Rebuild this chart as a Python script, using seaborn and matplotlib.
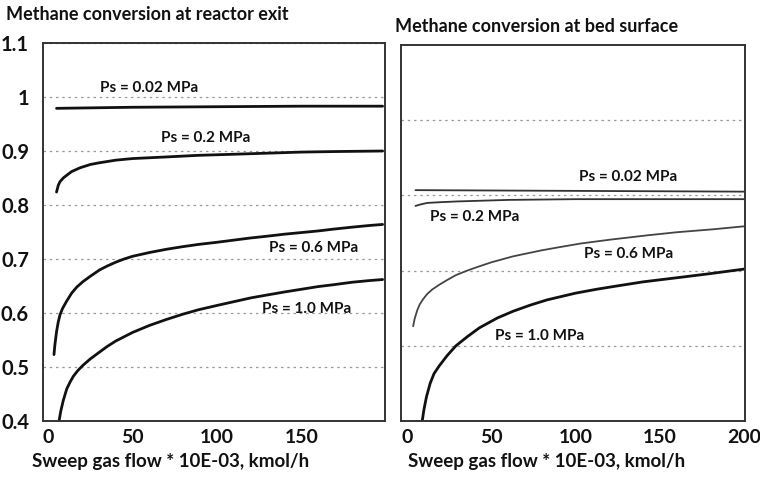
import matplotlib
matplotlib.use("Agg")
import matplotlib.pyplot as plt
from matplotlib.ticker import MultipleLocator, NullFormatter
import seaborn as sns
import pandas as pd

# Methane conversion vs sweep gas flow (x in 10E-03 kmol/h)
# Reactor exit
exit_x_002 = [5, 50, 100, 150, 198]
exit_y_002 = [0.979, 0.981, 0.982, 0.983, 0.983]
exit_x_02 = [5, 6, 7, 9, 11, 14, 19, 25, 30, 40, 50, 70, 89, 110, 130, 150, 170, 198]
exit_y_02 = [0.824, 0.836, 0.843, 0.850, 0.855, 0.862, 0.869, 0.875, 0.878, 0.883, 0.886,
             0.889, 0.892, 0.894, 0.896, 0.898, 0.899, 0.900]
exit_x_06 = [3.5, 4, 5, 6, 7, 8.5, 11, 14, 17, 20.6, 25, 30.6, 35, 40, 45, 50, 60, 70, 80,
             89, 100, 110, 120, 129, 140, 150, 160, 168, 180, 190, 198]
exit_y_06 = [0.523, 0.540, 0.565, 0.583, 0.596, 0.608, 0.622, 0.637, 0.648, 0.658, 0.668,
             0.680, 0.687, 0.694, 0.700, 0.705, 0.712, 0.718, 0.723, 0.727, 0.731, 0.735,
             0.739, 0.742, 0.746, 0.749, 0.752, 0.755, 0.759, 0.762, 0.764]
exit_x_10 = [6.5, 7.5, 9, 11, 13, 15, 17.5, 20.6, 25, 30.6, 35, 40, 45, 50, 60, 70, 80, 89,
             100, 110, 120, 129, 140, 150, 160, 168, 180, 190, 198]
exit_y_10 = [0.400, 0.418, 0.438, 0.459, 0.472, 0.483, 0.493, 0.503, 0.515, 0.528, 0.538,
             0.548, 0.556, 0.564, 0.577, 0.588, 0.598, 0.606, 0.614, 0.621, 0.628, 0.633,
             0.639, 0.644, 0.649, 0.652, 0.657, 0.660, 0.662]

# Bed surface
bed_x_002 = [5, 100, 200.6]
bed_y_002 = [0.807, 0.806, 0.805]
bed_x_02 = [5, 8, 12, 20, 30, 45, 60, 100, 150, 200.6]
bed_y_02 = [0.786, 0.788, 0.790, 0.791, 0.792, 0.793, 0.794, 0.795, 0.795, 0.795]
bed_x_06 = [3.6, 4.5, 6, 7.5, 9.5, 12, 15, 19, 23.8, 29, 35.7, 42, 50, 63, 80, 90, 103, 120,
            143, 160, 182, 200.6]
bed_y_06 = [0.626, 0.636, 0.647, 0.655, 0.662, 0.669, 0.675, 0.681, 0.6875, 0.694, 0.700,
            0.705, 0.711, 0.719, 0.727, 0.731, 0.736, 0.741, 0.747, 0.751, 0.755, 0.759]
bed_x_10 = [9, 10, 11.5, 13.7, 16, 19, 23.8, 29, 35.7, 43, 53.6, 63, 73, 83, 100, 112, 123,
            140, 162, 180, 200]
bed_y_10 = [0.500, 0.515, 0.532, 0.550, 0.563, 0.573, 0.587, 0.600, 0.612, 0.624, 0.637,
            0.646, 0.654, 0.661, 0.670, 0.675, 0.679, 0.685, 0.691, 0.696, 0.702]

pressures = ["Ps = 0.02 MPa", "Ps = 0.2 MPa", "Ps = 0.6 MPa", "Ps = 1.0 MPa"]
exit_x_ticks = [0, 50, 100, 150]
exit_y_ticks = [0.4, 0.5, 0.6, 0.7, 0.8, 0.9, 1.0, 1.1]
exit_y_labels = ["0.4", "0.5", "0.6", "0.7", "0.8", "0.9", "1", "1.1"]
bed_x_ticks = [0, 50, 100, 150, 200]
bed_y_ticks = [0.6, 0.7, 0.8, 0.9]

sns.set_theme(style="white")
plt.rcParams["font.family"] = ["Lato", "DejaVu Sans"]

fig = plt.figure(figsize=(7.6, 4.83), dpi=100)
ax1 = fig.add_axes([43 / 760, 62 / 483, 342 / 760, 378 / 483])
ax2 = fig.add_axes([401 / 760, 62 / 483, 344 / 760, 376 / 483])


def frame(series):
    return pd.DataFrame({"flow": series[0], "conv": series[1]})


exit_series = [(exit_x_002, exit_y_002), (exit_x_02, exit_y_02),
               (exit_x_06, exit_y_06), (exit_x_10, exit_y_10)]
bed_series = [(bed_x_002, bed_y_002), (bed_x_02, bed_y_02),
              (bed_x_06, bed_y_06), (bed_x_10, bed_y_10)]

for s in exit_series:
    sns.lineplot(data=frame(s), x="flow", y="conv", ax=ax1, color="#111111", lw=2.0)

bed_styles = [("#333333", 1.3), ("#333333", 1.3), ("#444444", 1.3), ("#111111", 2.0)]
for s, (c, w) in zip(bed_series, bed_styles):
    sns.lineplot(data=frame(s), x="flow", y="conv", ax=ax2, color=c, lw=w)

label_font = dict(fontsize=11, fontweight="bold", color="#111111", va="center", ha="left")
exit_label_pos = [(30.6, 1.017), (67, 0.925), (130.6, 0.72), (126.5, 0.607)]
bed_label_pos = [(101.8, 0.824), (13.7, 0.771), (104.8, 0.722), (52.4, 0.613)]
for txt, (x, y) in zip(pressures, exit_label_pos):
    ax1.text(x, y, txt, **label_font)
for txt, (x, y) in zip(pressures, bed_label_pos):
    ax2.text(x, y, txt, **label_font)

# Axes limits, ticks and grids
ax1.set_xlim(-3, 199.4)
ax1.set_ylim(0.4, 1.1)
ax1.set_xticks(exit_x_ticks)
ax1.set_yticks(exit_y_ticks)
ax1.set_yticklabels(exit_y_labels)
ax1.xaxis.set_minor_locator(MultipleLocator(25))
ax1.yaxis.set_minor_locator(MultipleLocator(0.05))

ax2.set_xlim(-3.6, 200.6)
ax2.set_ylim(0.5, 1.0)
ax2.set_xticks(bed_x_ticks)
ax2.set_yticks(bed_y_ticks)
ax2.yaxis.set_major_formatter(NullFormatter())
ax2.xaxis.set_minor_locator(MultipleLocator(25))

for ax in (ax1, ax2):
    ax.set_xlabel("")
    ax.set_ylabel("")
    ax.yaxis.grid(True, which="major", linestyle=(0, (2, 3)), color="#9a9a9a", lw=0.9)
    ax.tick_params(which="both", direction="in", color="#9a9a9a", width=0.8)
    ax.tick_params(which="major", length=5)
    ax.tick_params(which="minor", length=3)
    ax.tick_params(axis="x", which="major", labelsize=14, pad=6, labelcolor="#111111")
    ax.tick_params(axis="y", which="major", labelsize=14.5, pad=10, labelcolor="#111111")
    for lab in ax.get_xticklabels() + ax.get_yticklabels():
        lab.set_fontweight("bold")
    for sp in ax.spines.values():
        sp.set_color("#333333")
        sp.set_linewidth(1.4)

title_font = dict(fontsize=13, fontweight="bold", color="#111111", va="center", ha="left")
fig.text(6 / 760, 1 - 15 / 483, "Methane conversion at reactor exit", **title_font)
fig.text(395 / 760, 1 - 27 / 483, "Methane conversion at bed surface", **title_font)
xlabel_font = dict(fontsize=13.5, fontweight="bold", color="#111111", va="center", ha="left")
fig.text(32 / 760, 1 - 462 / 483, "Sweep gas flow * 10E-03, kmol/h", **xlabel_font)
fig.text(408 / 760, 1 - 462 / 483, "Sweep gas flow * 10E-03, kmol/h", **xlabel_font)

fig.savefig("out.png", dpi=100)
